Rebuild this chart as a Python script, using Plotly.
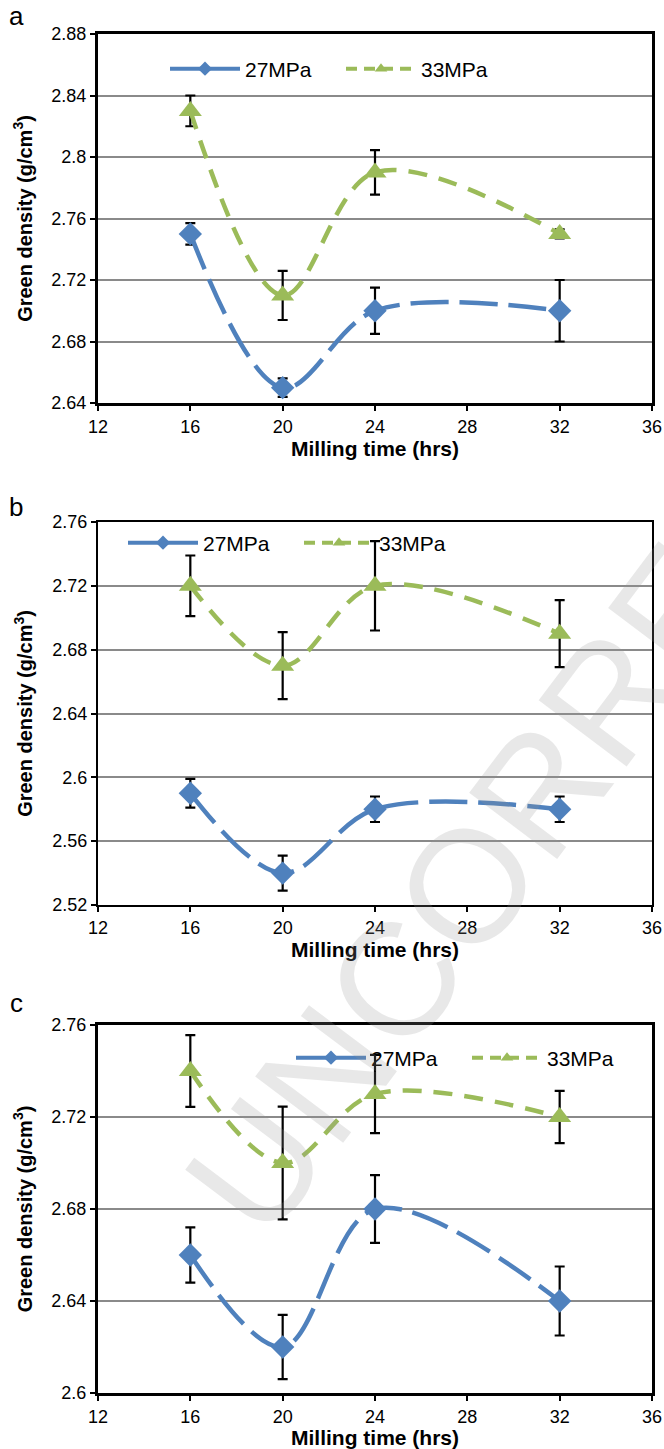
import plotly.graph_objects as go

# Milling time (hrs) shared by all three panels
milling_time = [16, 20, 24, 32]

# Panel a: green density (g/cm3) and standard deviation
a_27 = [2.75, 2.65, 2.70, 2.70]
a_27_err = [0.007, 0.006, 0.015, 0.020]
a_33 = [2.83, 2.71, 2.79, 2.75]
a_33_err = [0.010, 0.016, 0.0145, 0.003]

# Panel b
b_27 = [2.59, 2.54, 2.58, 2.58]
b_27_err = [0.009, 0.011, 0.008, 0.008]
b_33 = [2.72, 2.67, 2.72, 2.69]
b_33_err = [0.019, 0.021, 0.028, 0.021]

# Panel c
c_27 = [2.66, 2.62, 2.68, 2.64]
c_27_err = [0.012, 0.014, 0.0147, 0.015]
c_33 = [2.74, 2.70, 2.73, 2.72]
c_33_err = [0.0156, 0.0245, 0.017, 0.0114]

series_names = ["27MPa", "33MPa"]
panel_labels = ["a", "b", "c"]

x_ticks = [12, 16, 20, 24, 28, 32, 36]
a_yticks = [2.64, 2.68, 2.72, 2.76, 2.80, 2.84, 2.88]
a_ytext = ["2.64", "2.68", "2.72", "2.76", "2.8", "2.84", "2.88"]
b_yticks = [2.52, 2.56, 2.60, 2.64, 2.68, 2.72, 2.76]
b_ytext = ["2.52", "2.56", "2.6", "2.64", "2.68", "2.72", "2.76"]
c_yticks = [2.60, 2.64, 2.68, 2.72, 2.76]
c_ytext = ["2.6", "2.64", "2.68", "2.72", "2.76"]

W, H = 664, 1449
BLUE = "#4F81BD"
GREEN = "#9BBB59"
FONT = "Liberation Sans, Arial, sans-serif"


def py(px):
    """Pixel row (from top) to paper fraction."""
    return 1 - px / H


def px_x(px):
    return px / W


panels = [
    # (suffix, y27, e27, y33, e33, yticks, ytext, top, bottom, frame width, legend y, legend x, label y)
    ("", a_27, a_27_err, a_33, a_33_err, a_yticks, a_ytext, 34, 403, 3, 69, 165, 16),
    ("2", b_27, b_27_err, b_33, b_33_err, b_yticks, b_ytext, 522, 905, 2.2, 543, 123, 507),
    ("3", c_27, c_27_err, c_33, c_33_err, c_yticks, c_ytext, 1025, 1393, 3, 1058, 291, 1003),
]

fig = go.Figure()
layout = dict(
    width=W,
    height=H,
    margin=dict(l=0, r=0, t=0, b=0, pad=0, autoexpand=False),
    paper_bgcolor="white",
    plot_bgcolor="white",
    font=dict(family=FONT, color="black"),
    annotations=[],
)

for suffix, y27, e27, y33, e33, yt, ytt, top, bot, fw, leg_y, leg_x, lab_y in panels:
    xa = "x" + suffix
    ya = "y" + suffix
    leg = "legend" + suffix

    # measured curves with error bars
    fig.add_trace(go.Scatter(
        x=milling_time, y=y27, xaxis=xa, yaxis=ya, mode="lines+markers",
        line=dict(color=BLUE, width=4.5, shape="spline", smoothing=1.0, dash="38px,11px"),
        marker=dict(symbol="diamond", size=18, color=BLUE),
        error_y=dict(type="data", array=e27, color="black", thickness=2.2, width=5),
        showlegend=False, cliponaxis=False,
    ))
    fig.add_trace(go.Scatter(
        x=milling_time, y=y33, xaxis=xa, yaxis=ya, mode="lines+markers",
        line=dict(color=GREEN, width=4.5, shape="spline", smoothing=1.0, dash="19px,12px"),
        marker=dict(symbol="triangle-up", size=20, color=GREEN),
        error_y=dict(type="data", array=e33, color="black", thickness=2.2, width=5),
        showlegend=False, cliponaxis=False,
    ))
    # legend entries
    fig.add_trace(go.Scatter(
        x=[None], y=[None], xaxis=xa, yaxis=ya, mode="lines+markers", name=series_names[0],
        line=dict(color=BLUE, width=4), marker=dict(symbol="diamond", size=11, color=BLUE),
        legend=leg,
    ))
    fig.add_trace(go.Scatter(
        x=[None], y=[None], xaxis=xa, yaxis=ya, mode="lines+markers", name=series_names[1],
        line=dict(color=GREEN, width=4, dash="11px,7px"), marker=dict(symbol="triangle-up", size=11, color=GREEN),
        legend=leg,
    ))

    xkey = "xaxis" + suffix
    ykey = "yaxis" + suffix
    layout[xkey] = dict(
        domain=[px_x(98), px_x(652)], anchor=ya, range=[12, 36], automargin=False,
        tickvals=x_ticks, ticks="outside", ticklen=5, tickwidth=1.5, tickcolor="black",
        showline=True, linecolor="black", linewidth=fw, mirror=True, showgrid=False,
        zeroline=False, tickfont=dict(size=18, family=FONT, color="black"),
        title=dict(text="<b>Milling time (hrs)</b>", font=dict(size=21, family=FONT, color="black"), standoff=6),
    )
    layout[ykey] = dict(
        domain=[py(bot), py(top)], anchor=xa, range=[yt[0], yt[-1]], automargin=False,
        tickvals=yt, ticktext=ytt, ticks="outside", ticklen=5, tickwidth=1.5, tickcolor="black",
        showline=True, linecolor="black", linewidth=fw, mirror=True,
        showgrid=True, gridcolor="#8a8a8a", gridwidth=1.6, zeroline=False,
        tickfont=dict(size=18, family=FONT, color="black"),
        title=dict(text="<b>Green density (g/cm<sup>3</sup>)</b>", font=dict(size=20, family=FONT, color="black"), standoff=14),
    )
    layout[leg] = dict(
        orientation="h", x=px_x(leg_x), y=py(leg_y), xanchor="left", yanchor="middle",
        bgcolor="rgba(0,0,0,0)", font=dict(size=21, family=FONT, color="black"),
        itemwidth=70, entrywidth=91, tracegroupgap=0,
    )
    layout["annotations"].append(dict(
        text=panel_labels[["", "2", "3"].index(suffix)], xref="paper", yref="paper",
        x=px_x(16), y=py(lab_y), xanchor="center", yanchor="middle", showarrow=False,
        font=dict(size=26, family=FONT, color="black"),
    ))

# proof watermark across the sheet
layout["annotations"].append(dict(
    text="UNCORRECTED PROOF", xref="paper", yref="paper",
    x=px_x(780), y=py(470), xanchor="center", yanchor="middle", showarrow=False,
    textangle=-53, font=dict(size=160, family=FONT, color="rgba(150,150,150,0.22)"),
))

fig.update_layout(**layout)
fig.write_html("out.html")
